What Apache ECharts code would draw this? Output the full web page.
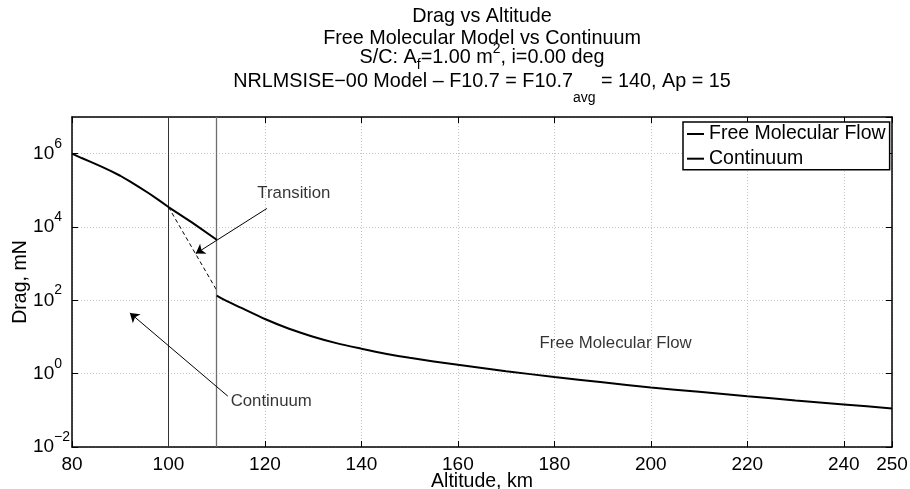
<!DOCTYPE html>
<html><head><meta charset="utf-8">
<script src="https://cdn.jsdelivr.net/npm/echarts@6/dist/echarts.min.js"></script>
<style>html,body{margin:0;padding:0;background:#fff}#c{width:910px;height:489px}</style>
</head><body><div id="c"></div>
<script>
const FONT = 'Liberation Sans, Arial, Helvetica, sans-serif';

// Continuum regime (altitude km, drag mN)
const contAlt  = [80, 82, 84, 86, 88, 90, 92, 94, 96, 98, 100, 105, 110];
const contDrag = [1.0e6, 7.6e5, 5.9e5, 4.5e5, 3.4e5, 2.5e5, 1.76e5, 1.2e5, 8.2e4, 5.4e4, 3.5e4, 1.3e4, 4.5e3];
// Free molecular regime
const fmfAlt  = [110, 112, 115, 120, 125, 130, 135, 140, 145, 150, 160, 170, 180, 190, 200, 210, 220, 230, 240, 250];
const fmfDrag = [135, 97, 63, 31, 16.8, 10.2, 6.7, 4.8, 3.5, 2.7, 1.74, 1.17, 0.81, 0.58, 0.42, 0.32, 0.243, 0.186, 0.145, 0.113];
// Transition bridge (dashed)
const transAlt  = [100, 110];
const transDrag = [3.5e4, 188];
// Regime boundaries
const regimeBounds = [100, 110];

// Axis settings
const xMin = 80, xMax = 250, xStep = 20;
const yMin = 0.01, yMax = 1e7;

// Annotations
const noteText = ['Transition', 'Continuum', 'Free Molecular Flow'];
const noteAlt  = [126.0, 121.3, 192.7];
const noteDrag = [8.3e4, 0.178, 6.8];
const arrowFrom = [[120.4, 3.2e4], [112.3, 0.244]];
const arrowTo   = [[105.65, 1.88e3], [92.0, 45.4]];

const zip = (a, b) => a.map((v, i) => [v, b[i]]);

const chart = echarts.init(document.getElementById('c'));

const gridLine = { show: true, lineStyle: { color: '#c4c4c4', width: 1, type: [1, 2] } };
const axLine = { show: true, lineStyle: { color: '#000', width: 1.5 } };
const axTick = { show: true, inside: true, length: 6, lineStyle: { color: '#000', width: 1 } };

const supStyle = { fontSize: 14, fontFamily: FONT, lineHeight: 12, verticalAlign: 'top', color: '#000' };
const subStyle = { fontSize: 14, fontFamily: FONT, lineHeight: 12, verticalAlign: 'bottom', color: '#000' };

function titleText(y, text, lh) {
  return {
    type: 'text', x: 482, y: y, silent: true,
    style: {
      text: text, fontSize: 19.8, fontFamily: FONT, fill: '#000',
      align: 'center', verticalAlign: 'middle', lineHeight: lh,
      rich: { sup: supStyle, sub: subStyle }
    }
  };
}

const option = {
  animation: false,
  backgroundColor: '#fff',
  textStyle: { fontFamily: FONT },
  grid: { left: 72, right: 18, top: 117, bottom: 42, containLabel: false, outerBoundsMode: 'none' },
  graphic: [
    titleText(16.7, 'Drag vs Altitude', 22),
    titleText(38.6, 'Free Molecular Model vs Continuum', 22),
    titleText(57.6, 'S/C: A{sub|f}=1.00 m{sup|2}, i=0.00 deg', 30),
    titleText(81.1, 'NRLMSISE\u221200 Model \u2013 F10.7 = F10.7{sub|avg} = 140, Ap = 15', 48)
  ],
  legend: {
    data: [{ name: 'Free Molecular Flow', icon: 'rect' }, { name: 'Continuum', icon: 'rect' }],
    orient: 'vertical', left: 683, top: 122,
    padding: [2, 4, 1, 4], itemGap: 4.7, itemWidth: 17, itemHeight: 2,
    backgroundColor: '#fff', borderColor: '#000', borderWidth: 1.5, borderRadius: 0,
    itemStyle: { color: '#000', borderWidth: 0 },
    textStyle: { fontSize: 19.5, fontFamily: FONT, color: '#000', lineHeight: 20 }
  },
  xAxis: [{
    type: 'value', min: xMin, max: xMax, interval: xStep, position: 'bottom',
    axisLine: axLine, axisTick: axTick, splitLine: gridLine,
    axisLabel: { fontSize: 19, color: '#000', margin: 8, fontFamily: FONT },
    name: 'Altitude, km', nameLocation: 'middle', nameGap: 24.5, nameMoveOverlap: false,
    nameTextStyle: { fontSize: 19.5, color: '#000', fontFamily: FONT }
  }, {
    type: 'value', min: xMin, max: xMax, interval: xStep, position: 'top',
    axisLine: axLine, axisTick: axTick, splitLine: { show: false }, axisLabel: { show: false }
  }],
  yAxis: [{
    type: 'log', logBase: 100, min: yMin, max: yMax, position: 'left',
    axisLine: axLine, axisTick: axTick, splitLine: gridLine,
    axisLabel: {
      showMaxLabel: false, fontSize: 19, color: '#000', margin: 2, lineHeight: 34, fontFamily: FONT,
      formatter: function (v) {
        const e = Math.round(Math.log10(v));
        return e < 0 ? '10{sup2|\u2212' + (-e) + '}' : '10{sup1|' + e + '}';
      },
      rich: {
        sup1: { fontSize: 14, fontFamily: FONT, lineHeight: 14, verticalAlign: 'top', padding: [0, 8, 0, 0], color: '#000' },
        sup2: { fontSize: 14, fontFamily: FONT, lineHeight: 14, verticalAlign: 'top', color: '#000' }
      }
    },
    name: 'Drag, mN', nameLocation: 'middle', nameGap: 41, nameMoveOverlap: false,
    nameTextStyle: { fontSize: 19.5, color: '#000', fontFamily: FONT }
  }, {
    type: 'log', logBase: 100, min: yMin, max: yMax, position: 'right',
    axisLine: axLine, axisTick: axTick, splitLine: { show: false }, axisLabel: { show: false }
  }],
  series: [
    {
      name: 'Free Molecular Flow', type: 'line', data: zip(fmfAlt, fmfDrag), smooth: 0.2,
      showSymbol: false, symbol: 'none', lineStyle: { color: '#000', width: 2 }, itemStyle: { color: '#000' }, z: 5
    },
    {
      name: 'Continuum', type: 'line', data: zip(contAlt, contDrag),
      showSymbol: false, symbol: 'none', lineStyle: { color: '#000', width: 2 }, itemStyle: { color: '#000' }, z: 5,
      markLine: {
        silent: true, symbol: ['none', 'none'], label: { show: false },
        data: [
          { xAxis: regimeBounds[0], lineStyle: { color: '#333', width: 1, type: 'solid' } },
          { xAxis: regimeBounds[1], lineStyle: { color: '#6e6e6e', width: 1.3, type: 'solid' } }
        ]
      }
    },
    {
      name: 'Transition', type: 'line', data: zip(transAlt, transDrag),
      showSymbol: false, symbol: 'none', lineStyle: { color: '#000', width: 1, type: [4, 3] }, z: 4
    },
    {
      name: 'notes', type: 'scatter', symbolSize: 1, itemStyle: { color: 'rgba(0,0,0,0)' },
      data: noteText.map((t, i) => ({ name: t, value: [noteAlt[i], noteDrag[i]] })),
      label: { show: true, position: 'inside', formatter: '{b}', fontSize: 16.8, color: '#000', fontFamily: FONT },
      markLine: {
        silent: true, symbol: ['none', 'arrow'], symbolSize: 9, label: { show: false },
        lineStyle: { color: '#000', width: 1, type: 'solid' },
        data: arrowFrom.map((f, i) => [{ coord: f }, { coord: arrowTo[i] }])
      }
    }
  ]
};
chart.setOption(option);
</script>
</body></html>
